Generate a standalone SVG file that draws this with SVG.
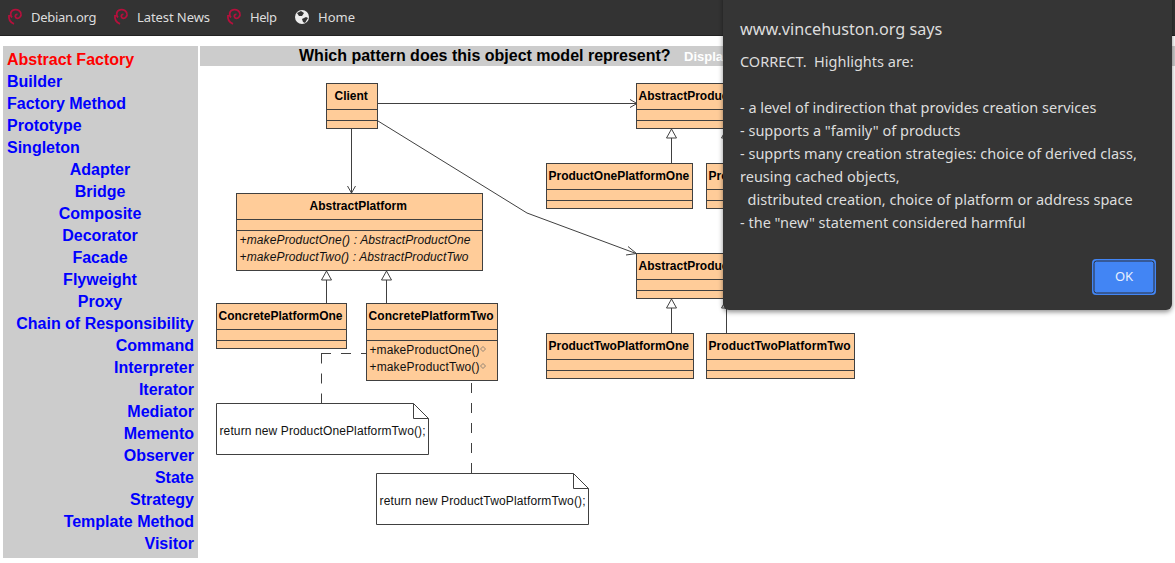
<svg xmlns="http://www.w3.org/2000/svg" width="1175" height="563" viewBox="0 0 1175 563">
<defs>
<style>
.box{fill:#fc9;stroke:#404040;stroke-width:1}
.sep{stroke:#404040;stroke-width:1;fill:none}
.name{font:bold 12px "Liberation Sans",Arial,sans-serif;fill:#000}
.op{font:12px "Liberation Sans",Arial,sans-serif;fill:#111}
.ops{font:italic 12px "Liberation Sans",Arial,sans-serif;fill:#111}
.line{stroke:#404040;stroke-width:1;fill:none}
.dash{stroke:#404040;stroke-width:1;fill:none;stroke-dasharray:10 10}
.tri{fill:#fff;stroke:#404040;stroke-width:1}
.note{fill:#fff;stroke:#404040;stroke-width:1}
.open{fill:none;stroke:#404040;stroke-width:1}
.side{font:bold 16px "Liberation Sans",Arial,sans-serif;fill:#00f}
.mid{text-anchor:middle}.end{text-anchor:end}
.nav{font:13px "Noto Sans",sans-serif;fill:#ddd}
.msg{font:14.5px "Noto Sans",sans-serif;fill:#ddd;white-space:pre}
.swirl{fill:none;stroke:#b5103c;stroke-width:1.8}
.dia{fill:none;stroke:#666;stroke-width:.7}
</style>
<filter id="sh" x="-5%" y="-5%" width="110%" height="110%"><feDropShadow dx="0" dy="2" stdDeviation="2.5" flood-color="#000" flood-opacity=".45"/></filter>
<g id="swirlIcon"><path class="swirl" d="M5 9.500C2.500 7 3.500 2.500 7 1.800C11 1 14.500 3.500 14 7C13.500 10 10.500 11 9 9.800C7.500 8.500 8.500 6 10.500 6.500M2 7C1.500 11 3.500 14.500 7 15.800"/></g>
</defs>
<rect width="1175" height="563" fill="#fff"/>

<g id="navbar">
<rect width="1175" height="35" fill="#333"/>
<rect y="35" width="1175" height="1" fill="#222"/>
<use href="#swirlIcon" x="7" y="8"/><text class="nav" x="31" y="22" textLength="65.500">Debian.org</text>
<use href="#swirlIcon" x="113" y="8"/><text class="nav" x="137" y="22" textLength="73">Latest News</text>
<use href="#swirlIcon" x="226" y="8"/><text class="nav" x="250" y="22" textLength="27">Help</text>
<circle cx="302" cy="17" r="7" fill="#eee"/>
<path d="M297 13l4-2 3 2-2 3-3 0zM302 19l4-2 2 1-3 5-2-1z" fill="#333"/>
<text class="nav" x="318" y="22">Home</text>
</g>

<g id="sidebar">
<rect x="3" y="46" width="195" height="512" fill="#ccc"/>
<text class="side" x="7" y="65" style="fill:#f00">Abstract Factory</text>
<text class="side" x="7" y="87">Builder</text>
<text class="side" x="7" y="109">Factory Method</text>
<text class="side" x="7" y="131">Prototype</text>
<text class="side" x="7" y="153">Singleton</text>
<text class="side mid" x="100" y="175">Adapter</text>
<text class="side mid" x="100" y="197">Bridge</text>
<text class="side mid" x="100" y="219">Composite</text>
<text class="side mid" x="100" y="241">Decorator</text>
<text class="side mid" x="100" y="263">Facade</text>
<text class="side mid" x="100" y="285">Flyweight</text>
<text class="side mid" x="100" y="307">Proxy</text>
<text class="side end" x="194" y="329">Chain of Responsibility</text>
<text class="side end" x="194" y="351">Command</text>
<text class="side end" x="194" y="373">Interpreter</text>
<text class="side end" x="194" y="395">Iterator</text>
<text class="side end" x="194" y="417">Mediator</text>
<text class="side end" x="194" y="439">Memento</text>
<text class="side end" x="194" y="461">Observer</text>
<text class="side end" x="194" y="483">State</text>
<text class="side end" x="194" y="505">Strategy</text>
<text class="side end" x="194" y="527">Template Method</text>
<text class="side end" x="194" y="549">Visitor</text>
</g>

<g id="titlebar">
<rect x="200" y="46" width="975" height="20" fill="#ccc"/>
<text x="299" y="61" style="font:bold 16px 'Liberation Sans',Arial,sans-serif" fill="#000">Which pattern does this object model represent?</text>
<text x="684" y="61" style="font:bold 13px 'Liberation Sans',Arial,sans-serif" fill="#fff">Displa</text>
</g>

<g id="connectors">
<path class="line" d="M378 103.500H636"/><path class="open" d="M630 99.500L637 103.500L630 107.500"/>
<path class="line" d="M351.500 129V193"/><path class="open" d="M347.500 186L351.500 193L355.500 186"/>
<path class="line" d="M378 121L527 213L636 253.500"/><path class="open" d="M628 246.500L636.500 253.500L626 255"/>
<path class="line" d="M326.500 280V303M386.500 280V303M671.500 138V163M726.500 138V163M671.500 308V333M726.500 308V333"/>
<path class="tri" d="M326.500 271L321.500 280H331.500Z"/>
<path class="tri" d="M386.500 271L381.500 280H391.500Z"/>
<path class="tri" d="M671.500 129L666.500 138H676.500Z"/>
<path class="tri" d="M726.500 129L721.500 138H731.500Z"/>
<path class="tri" d="M671.500 299L666.500 308H676.500Z"/>
<path class="tri" d="M726.500 299L721.500 308H731.500Z"/>
<path class="dash" d="M321.500 353.500V403.500M321 353.500H369"/>
<path class="dash" d="M471.500 383V473.500"/>
</g>

<g id="client"><rect class="box" x="326.500" y="83.500" width="51" height="45"/><path class="sep" d="M326.500 109.500H377.500M326.500 120.500H377.500"/><text class="name" x="334.500" y="99.500">Client</text></g>

<g id="abstractPlatform"><rect class="box" x="236.500" y="193.500" width="246" height="77"/><path class="sep" d="M236.500 219.500H482.500M236.500 230.500H482.500"/><text class="name" x="309.500" y="209.500">AbstractPlatform</text>
<text class="ops" x="239.500" y="243.500" textLength="231">+makeProductOne() : AbstractProductOne</text><text class="ops" x="239.500" y="260.500" textLength="229">+makeProductTwo() : AbstractProductTwo</text></g>

<g id="concretePlatformOne"><rect class="box" x="216.500" y="303.500" width="130" height="45"/><path class="sep" d="M216.500 329.500H346.500M216.500 340.500H346.500"/><text class="name" x="218.500" y="319.500">ConcretePlatformOne</text></g>

<g id="concretePlatformTwo"><rect class="box" x="366.500" y="303.500" width="131" height="77"/><path class="sep" d="M366.500 329.500H497.500M366.500 340.500H497.500"/><text class="name" x="368.500" y="319.500" textLength="125">ConcretePlatformTwo</text>
<text class="op" x="369.500" y="353.500" textLength="110">+makeProductOne()</text><text class="op" x="369.500" y="370.500" textLength="110">+makeProductTwo()</text>
<path class="dia" d="M483 346.500l2.500 2.500-2.500 2.500-2.500-2.500zM483 363.500l2.500 2.500-2.500 2.500-2.500-2.500z"/></g>

<g id="abstractProductOne"><rect class="box" x="636.500" y="83.500" width="150" height="45"/><path class="sep" d="M636.500 109.500H786.500M636.500 120.500H786.500"/><text class="name" x="638.500" y="99.500">AbstractProduc</text></g>
<g id="productOnePlatformOne"><rect class="box" x="546.500" y="163.500" width="146" height="45"/><path class="sep" d="M546.500 189.500H692.500M546.500 200.500H692.500"/><text class="name" x="548.500" y="179.500">ProductOnePlatformOne</text></g>
<g id="productOnePlatformTwo"><rect class="box" x="706.500" y="163.500" width="146" height="45"/><path class="sep" d="M706.500 189.500H852.500M706.500 200.500H852.500"/><text class="name" x="708.500" y="179.500">Pro</text></g>

<g id="abstractProductTwo"><rect class="box" x="636.500" y="253.500" width="150" height="45"/><path class="sep" d="M636.500 279.500H786.500M636.500 290.500H786.500"/><text class="name" x="638.500" y="269.500">AbstractProduc</text></g>
<g id="productTwoPlatformOne"><rect class="box" x="546.500" y="333.500" width="147" height="45"/><path class="sep" d="M546.500 359.500H693.500M546.500 370.500H693.500"/><text class="name" x="548.500" y="349.500">ProductTwoPlatformOne</text></g>
<g id="productTwoPlatformTwo"><rect class="box" x="706.500" y="333.500" width="148" height="45"/><path class="sep" d="M706.500 359.500H854.500M706.500 370.500H854.500"/><text class="name" x="708.500" y="349.500" textLength="142">ProductTwoPlatformTwo</text></g>

<g id="noteOne"><path class="note" d="M216.500 403.500H413.500L428.500 418.500V454.500H216.500ZM413.500 403.500V418.500H428.500"/><text class="op" x="219.500" y="435" textLength="206">return new ProductOnePlatformTwo();</text></g>
<g id="noteTwo"><path class="note" d="M376.500 473.500H573.500L588.500 488.500V524.500H376.500ZM573.500 473.500V488.500H588.500"/><text class="op" x="379.500" y="505" textLength="206">return new ProductTwoPlatformTwo();</text></g>

<g id="dialog">
<path d="M723 -6H1172V304a6 6 0 0 1-6 6H729a6 6 0 0 1-6-6Z" fill="#363636" filter="url(#sh)"/>
<text x="740" y="35" style="font:16.200px 'Noto Sans',sans-serif" fill="#ddd">www.vincehuston.org says</text>
<text class="msg" x="740" y="67" xml:space="preserve">CORRECT.  Highlights are:</text>
<text class="msg" x="740" y="113">- a level of indirection that provides creation services</text>
<text class="msg" x="740" y="136">- supports a "family" of products</text>
<text class="msg" x="740" y="159">- supprts many creation strategies: choice of derived class,</text>
<text class="msg" x="740" y="182">reusing cached objects,</text>
<text class="msg" x="740" y="205" xml:space="preserve">  distributed creation, choice of platform or address space</text>
<text class="msg" x="740" y="228">- the "new" statement considered harmful</text>
<rect x="1092" y="259" width="64" height="36" rx="4" fill="#4285f4"/>
<rect x="1094" y="261" width="60" height="32" rx="2.500" fill="#4285f4" stroke="#2a2f3a" stroke-width="1"/>
<text x="1124" y="281" text-anchor="middle" style="font:13px 'Noto Sans',sans-serif" fill="#e8f0fe">OK</text>
</g>
</svg>
